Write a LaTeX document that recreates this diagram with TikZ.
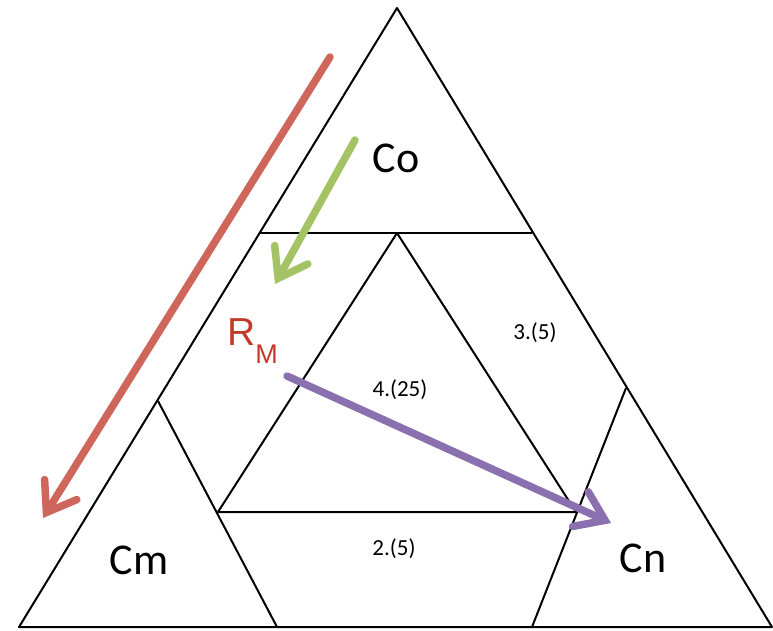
\documentclass[tikz,border=0pt]{standalone}
\usepackage{fontspec}
\setmainfont{Carlito}
\newfontfamily\rmfontsans{Liberation Sans}
\usetikzlibrary{arrows.meta}
\definecolor{redarr}{RGB}{207,102,92}
\definecolor{greenarr}{RGB}{163,195,100}
\definecolor{purparr}{RGB}{138,112,174}
\definecolor{rmred}{RGB}{196,58,42}
\tikzset{
  edge/.style={draw=black,line width=2pt,line join=round},
  bigarrow/.style={line width=7.5pt,line cap=round,-{Straight Barb[line cap=round,line join=miter,length=27pt,width=38pt]}},
  biglabel/.style={font=\fontsize{44}{44}\selectfont,inner sep=0pt},
  numlabel/.style={font=\fontsize{23}{23}\selectfont,inner sep=0pt}
}
\begin{document}
\begin{tikzpicture}[x=1pt,y=-1pt]
\useasboundingbox (0,0) rectangle (773,630);
% outer triangle
\coordinate (A) at (397,8);
\coordinate (BL) at (19,627);
\coordinate (BR) at (772,627);
\draw[edge] (A) -- (BL) -- (BR) -- cycle;
% top horizontal line
\coordinate (HL) at (260,233);
\coordinate (HR) at (532,233);
\draw[edge] (HL) -- (HR);
% inner triangle
\coordinate (IA) at (397,233);
\coordinate (IL) at (218,512);
\coordinate (IR) at (576,512);
\draw[edge] (IA) -- (IL) -- (IR) -- cycle;
% Cm triangle right side
\coordinate (CmA) at (158,401);
\coordinate (CmB) at (277,627);
\draw[edge] (CmA) -- (CmB);
% Cn triangle left side
\coordinate (CnA) at (626,388);
\coordinate (CnB) at (532,627);
\draw[edge] (CnA) -- (CnB);
% labels
\node[biglabel] (co) at (396,158) {Co};
\node[biglabel] (cm) at (139,560) {Cm};
\node[biglabel] (cn) at (643,558) {Cn};
\node[numlabel] (n3) at (535,333) {3.(5)};
\node[numlabel] (n4) at (400,390) {4.(25)};
\node[numlabel] (n2) at (394,549) {2.(5)};
\node[inner sep=0pt,text=rmred,font=\rmfontsans\fontsize{39}{39}\selectfont,anchor=base west] (rm) at (227,345) {R\raisebox{-18pt}{\fontsize{27}{27}\selectfont M}};
% arrows
\coordinate (r1) at (330,57);
\coordinate (r2) at (43,518);
\draw[bigarrow,redarr] (r1) -- (r2);
\coordinate (g1) at (355,140);
\coordinate (g2) at (275,284);
\draw[bigarrow,greenarr] (g1) -- (g2);
\coordinate (p1) at (287,376);
\coordinate (p2) at (611,523);
\draw[bigarrow,purparr] (p1) -- (p2);
\end{tikzpicture}
\end{document}
